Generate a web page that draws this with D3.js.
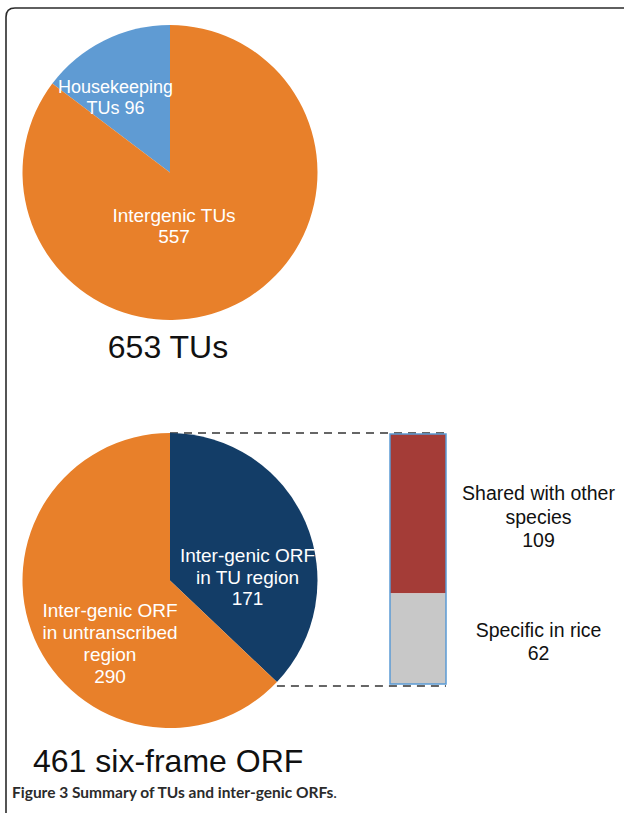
<!DOCTYPE html>
<html><head><meta charset="utf-8">
<script src="https://cdn.jsdelivr.net/npm/d3@7"></script>
<style>body{margin:0;background:#fff}svg{display:block}</style>
</head><body>
<script>
const tuCategories = ["Housekeeping TUs", "Intergenic TUs"];
const tuValues = [96, 557];
const orfCategories = ["Inter-genic ORF in TU region", "Inter-genic ORF in untranscribed region"];
const orfValues = [171, 290];
const tuRegionCategories = ["Shared with other species", "Specific in rice"];
const tuRegionValues = [109, 62];
const tuTotalLabel = "653 TUs";
const orfTotalLabel = "461 six-frame ORF";

const W = 624, H = 813;
const svg = d3.select("body").append("svg").attr("width", W).attr("height", H);
const font = "'Liberation Sans', Arial, sans-serif";

// frame
svg.append("path")
  .attr("d", "M6,820 L6,17 Q6,8 15,8 L630,8")
  .attr("fill", "none").attr("stroke", "#2b2b2b").attr("stroke-width", 1.6);

const R = 147.5;
// Pie 1
const tuColors = ["#5F9BD3", "#E8802A"];
const tuTotal = d3.sum(tuValues);
const tuStart = -2 * Math.PI * tuValues[0] / tuTotal;
const pie1 = d3.pie().sort(null).startAngle(tuStart).endAngle(tuStart + 2 * Math.PI);
const arc = d3.arc().innerRadius(0).outerRadius(R);
const g1 = svg.append("g").attr("transform", "translate(170,172.5)");
g1.selectAll("path").data(pie1(tuValues)).join("path")
  .attr("d", arc).attr("fill", (d, i) => tuColors[i]);

function label(g, x, y, lines, size, color, lh) {
  const t = g.append("text").attr("x", x).attr("y", y)
    .attr("text-anchor", "middle").attr("font-family", font)
    .attr("font-size", size).attr("fill", color);
  lines.forEach((l, i) => t.append("tspan").attr("x", x).attr("dy", i ? lh : 0).text(l));
}
label(g1, -54.5, -79.5, ["Housekeeping", "TUs " + tuValues[0]], 18, "#fff", 20.5);
label(g1, 4, 49.5, [tuCategories[1], String(tuValues[1])], 19, "#fff", 21);

svg.append("text").attr("x", 168).attr("y", 358).attr("text-anchor", "middle")
  .attr("font-family", font).attr("font-size", 32).attr("fill", "#111").text(tuTotalLabel);

// Pie 2
const orfColors = ["#133D67", "#E8802A"];
const cx2 = 170, cy2 = 580.5;
const pie2 = d3.pie().sort(null).startAngle(0).endAngle(2 * Math.PI);
const arcs2 = pie2(orfValues);

// bar scale
const y = d3.scaleLinear().domain([0, d3.sum(tuRegionValues)]).range([684, 434]);
const barX0 = 390, barX1 = 446;

// dashed connectors
const endA = arcs2[0].endAngle;
const ex = cx2 + R * Math.sin(endA);
svg.append("line").attr("x1", cx2).attr("y1", y(d3.sum(tuRegionValues)) - 1).attr("x2", barX1).attr("y2", y(d3.sum(tuRegionValues)) - 1)
  .attr("stroke", "#666").attr("stroke-width", 2).attr("stroke-dasharray", "8,6");
svg.append("line").attr("x1", ex).attr("y1", y(0) + 2).attr("x2", barX1).attr("y2", y(0) + 2)
  .attr("stroke", "#666").attr("stroke-width", 2).attr("stroke-dasharray", "8,6");

const g2 = svg.append("g").attr("transform", `translate(${cx2},${cy2})`);
g2.selectAll("path").data(arcs2).join("path")
  .attr("d", arc).attr("fill", (d, i) => orfColors[i]);
label(g2, 77.5, -18.5, ["Inter-genic ORF", "in TU region", String(orfValues[0])], 19, "#fff", 21.5);
label(g2, -60, 36.5, ["Inter-genic ORF", "in untranscribed", "region", String(orfValues[1])], 19, "#fff", 22);

// stacked bar
const barColors = ["#A43C37", "#C8C8C8"];
let acc = d3.sum(tuRegionValues);
const segs = tuRegionValues.map(v => { const top = acc; acc -= v; return { top, bottom: acc }; });
svg.selectAll("rect.seg").data(segs).join("rect").attr("class", "seg")
  .attr("x", barX0).attr("width", barX1 - barX0)
  .attr("y", d => y(d.top)).attr("height", d => y(d.bottom) - y(d.top))
  .attr("fill", (d, i) => barColors[i]);
svg.append("rect").attr("x", barX0).attr("y", y(d3.sum(tuRegionValues)))
  .attr("width", barX1 - barX0).attr("height", y(0) - y(d3.sum(tuRegionValues)))
  .attr("fill", "none").attr("stroke", "#5B9BD5").attr("stroke-width", 1.5);

const gl = svg.append("g");
label(gl, 538.5, 500, ["Shared with other", "species", String(tuRegionValues[0])], 19.5, "#111", 23.5);
label(gl, 538.5, 637, ["Specific in rice", String(tuRegionValues[1])], 19.5, "#111", 22.5);

svg.append("text").attr("x", 33).attr("y", 772)
  .attr("font-family", font).attr("font-size", 32).attr("fill", "#111").text(orfTotalLabel);

// caption
const cap = svg.append("text").attr("x", 12).attr("y", 798)
  .attr("font-family", "Lato, 'Open Sans', sans-serif").attr("font-size", 15.5).attr("fill", "#2b2b2b");
cap.append("tspan").attr("font-weight", "bold").text("Figure 3 Summary of TUs and inter-genic ORFs");
cap.append("tspan").attr("font-weight", "normal").text(".");
</script>
</body></html>
